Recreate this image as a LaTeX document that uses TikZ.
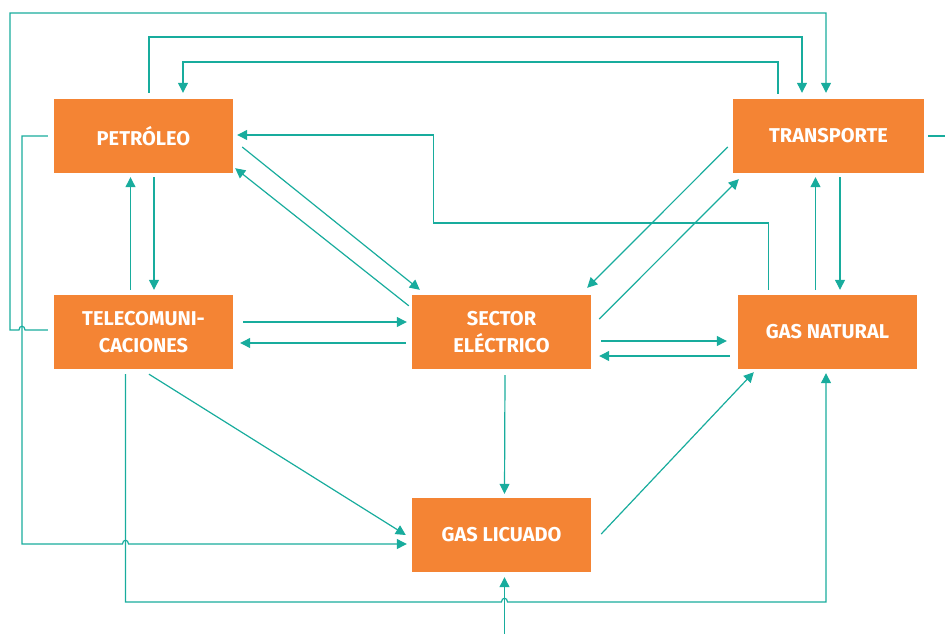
\documentclass[tikz,border=0pt]{standalone}
\usepackage{fontspec}
\setmainfont{Fira Sans}
\usetikzlibrary{arrows.meta,calc}
\definecolor{boxorange}{RGB}{244,132,52}
\definecolor{linkteal}{RGB}{24,172,157}
\begin{document}
\begin{tikzpicture}[x=1pt,y=-1pt,
  boxnode/.style={fill=boxorange, minimum width=179pt, minimum height=74pt, inner sep=0pt,
    text=white, font=\fontsize{20}{27}\selectfont\bfseries, align=center},
  link/.style={draw=linkteal, line width=1.2pt},
  arr/.style={link, -{Triangle[length=10pt,width=10pt]}}]
\useasboundingbox (0,0) rectangle (945,634);

\node[boxnode] (pet) at (143.5,136) {PETRÓLEO};
\node[boxnode, minimum width=191pt] (tra) at (828.5,136) {TRANSPORTE};
\node[boxnode] (tel) at (143.5,332) {TELECOMUNI-\\CACIONES};
\node[boxnode] (sec) at (501.5,332) {SECTOR\\ELÉCTRICO};
\node[boxnode] (gn) at (827.5,332) {GAS NATURAL};
\node[boxnode] (gl) at (501.5,535) {GAS LICUADO};

\coordinate (rightend) at (945,136);
\coordinate (bottomend) at (504.5,634);

% Petroleo <-> Sector
\draw[arr] ($(pet.east)+(9,11)$) -- ($(sec.north west)+(8,-5)$);
\draw[arr] ($(sec.north west)+(-3,11)$) -- ($(pet.south east)+(2,-5)$);
% Petroleo <-> Telecom
\draw[arr] ($(tel.north)+(-13,-5)$) -- ($(pet.south)+(-13,4)$);
\draw[arr] ($(pet.south)+(10.5,4)$) -- ($(tel.north)+(10.5,-5)$);
% Telecom <-> Sector
\draw[arr] ($(tel.east)+(10,-10)$) -- ($(sec.west)+(-5,-10)$);
\draw[arr] ($(sec.west)+(-6,11)$) -- ($(tel.east)+(7,11)$);
% Telecom -> Gas licuado
\draw[arr] ($(tel.south)+(5.5,5)$) -- ($(gl.west)+(-6,0)$);
% Petroleo -> Gas licuado (outer)
\draw[arr] ($(pet.west)+(-6,0)$) -- (22,136) -- (22,544) -- (122.5,544)
  .. controls (122.5,539) and (128.5,539) .. (128.5,544) -- ($(gl.west)+(-5,9)$);
% Telecom -> Transporte (outer)
\draw[arr] ($(tel.west)+(-6,-2)$) -- (25,330) .. controls (25,325) and (19,325) .. (19,330)
  -- (10,330) -- (10,13) -- (826,13) -- ($(tra.north)+(-2.5,-6)$);
% Petroleo -> Transporte
\draw[arr] ($(pet.north)+(5.5,-6)$) -- (149,37) -- (802,37) -- ($(tra.north)+(-26.5,-6)$);
% Transporte -> Petroleo
\draw[arr] ($(tra.north)+(-50.5,-5)$) -- (778,62) -- (183,62) -- ($(pet.north)+(39.5,-6)$);
% Transporte right stub
\draw[link] ($(tra.east)+(4,0)$) -- (rightend);
% Transporte <-> Sector
\draw[arr] ($(tra.west)+(-5,11)$) -- ($(sec.north east)+(-4,-7)$);
\draw[arr] ($(sec.east)+(8,-13)$) -- ($(tra.south west)+(6,6)$);
% Sector <-> Gas natural
\draw[arr] ($(sec.east)+(10,9)$) -- ($(gn.west)+(-11,9)$);
\draw[arr] ($(gn.west)+(-8,24)$) -- ($(sec.east)+(8,24)$);
% Gas natural -> Petroleo
\draw[arr] ($(gn.north)+(-59,-5)$) -- (768.5,223) -- (433.5,223) -- (433.5,135) -- ($(pet.east)+(4,-1)$);
% Gas natural <-> Transporte
\draw[arr] ($(gn.north)+(-12,-5)$) -- ($(tra.south)+(-13,4)$);
\draw[arr] ($(tra.south)+(11.5,4)$) -- ($(gn.north)+(12.5,-5)$);
% Sector -> Gas licuado
\draw[arr] ($(sec.south)+(3.5,6)$) -- ($(gl.north)+(3,-4)$);
% Gas licuado -> Gas natural
\draw[arr] ($(gl.east)+(10,-1)$) -- ($(gn.south west)+(16,3)$);
% Telecom -> Gas natural (bottom)
\draw[arr] ($(tel.south)+(-18,5)$) -- (125.5,602) -- (501.5,602)
  .. controls (501.5,597) and (507.5,597) .. (507.5,602) -- (826,602) -- ($(gn.south)+(-1.5,4)$);
% Bottom -> Gas licuado
\draw[arr] (bottomend) -- ($(gl.south)+(3,5)$);
\end{tikzpicture}
\end{document}
